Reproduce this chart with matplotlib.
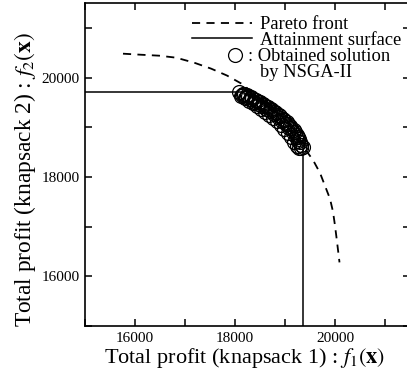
import matplotlib
matplotlib.use("Agg")
import matplotlib.pyplot as plt
from matplotlib.ticker import MultipleLocator

plt.rcParams["font.family"] = ["Liberation Serif", "DejaVu Serif"]
plt.rcParams["mathtext.fontset"] = "stix"

# Pareto front
front_f1 = [15760, 16100, 16480, 16820, 17180, 17520, 17840, 18160, 18600,
            19000, 19300, 19560, 19700, 19800, 19900, 19960, 20000, 20040, 20090]
front_f2 = [20480, 20460, 20440, 20400, 20300, 20180, 20040, 19860, 19460,
            19060, 18700, 18340, 18080, 17820, 17560, 17300, 17020, 16700, 16280]

# Solutions obtained by NSGA-II (overlapping strands of circles)
sol_a_f1 = [18080, 18180, 18260, 18340, 18420, 18500, 18580, 18660, 18740,
            18820, 18900, 18980, 19060, 19130, 19200, 19260, 19310, 19360]
sol_a_f2 = [19700, 19660, 19630, 19590, 19540, 19500, 19450, 19400, 19340,
            19280, 19220, 19150, 19070, 18990, 18900, 18810, 18710, 18600]
sol_b_f1 = [18120, 18200, 18280, 18360, 18440, 18520, 18600, 18680, 18760,
            18840, 18920, 18990, 19060, 19130, 19190, 19240, 19290, 19330]
sol_b_f2 = [19620, 19580, 19530, 19480, 19420, 19370, 19310, 19250, 19190,
            19120, 19040, 18960, 18880, 18800, 18710, 18630, 18580, 18580]
sol_c_f1 = [18140, 18220, 18300, 18380, 18460, 18540, 18620, 18700, 18780,
            18860, 18940, 19020, 19090, 19160, 19220, 19270, 19320]
sol_c_f2 = [19650, 19610, 19560, 19510, 19470, 19420, 19370, 19320, 19260,
            19200, 19130, 19060, 18980, 18900, 18810, 18730, 18640]
sol_d_f1 = [18160, 18240, 18320, 18400, 18480, 18560, 18640, 18720, 18800,
            18880, 18960, 19040, 19110, 19180, 19240, 19290]
sol_d_f2 = [19670, 19640, 19600, 19550, 19510, 19460, 19410, 19360, 19300,
            19240, 19170, 19100, 19020, 18940, 18850, 18760]

lo, hi = 15000, 21500

fig = plt.figure(figsize=(4.07, 3.81), dpi=100)
ax = fig.add_axes([85 / 407, 1 - 326 / 381, 325 / 407, 323 / 381])

# attainment surface: staircase through the outer strand
att_x = [lo] + sol_a_f1 + [sol_a_f1[-1]]
att_y = [sol_a_f2[0]] + sol_a_f2 + [lo]
ax.step(att_x, att_y, where="post", color="black", lw=1.1)

ax.plot(front_f1, front_f2, color="black", lw=1.3, ls=(0, (4.5, 3.5)))

for sx, sy in [(sol_a_f1, sol_a_f2), (sol_b_f1, sol_b_f2),
               (sol_c_f1, sol_c_f2), (sol_d_f1, sol_d_f2)]:
    ax.plot(sx, sy, "o", ms=10, mfc="none", mec="black", mew=0.9)

ax.set_xlim(lo, hi)
ax.set_ylim(lo, hi)
for a in (ax.xaxis, ax.yaxis):
    a.set_major_locator(MultipleLocator(2000))
    a.set_minor_locator(MultipleLocator(1000))
ax.tick_params(which="both", direction="in", top=True, right=True,
               length=5, width=1.1, labelsize=11, pad=4)
for s in ax.spines.values():
    s.set_linewidth(1.2)

ax.set_xlabel(r"Total profit (knapsack 1) : $f_1(\mathbf{x})$", fontsize=16)
ax.set_ylabel(r"Total profit (knapsack 2) : $f_2(\mathbf{x})$", fontsize=16.8)
ax.xaxis.set_label_coords(0.492, -0.062)
ax.yaxis.set_label_coords(-0.145, 0.452)

# hand-made legend
tr = ax.transAxes
ax.plot([0.329, 0.514], [0.938, 0.938], transform=tr, color="black", lw=1.3,
        ls=(0, (4.5, 3.5)), clip_on=False)
ax.plot([0.329, 0.514], [0.892, 0.892], transform=tr, color="black", lw=1.1, clip_on=False)
ax.plot([0.4615], [0.839], "o", transform=tr, ms=10, mfc="none", mec="black", mew=0.9)
fs = 13.3
ax.text(0.538, 0.9195, "Pareto front", transform=tr, fontsize=fs, va="baseline")
ax.text(0.538, 0.870, "Attainment surface", transform=tr, fontsize=fs, va="baseline")
ax.text(0.5015, 0.820, ": Obtained solution", transform=tr, fontsize=fs, va="baseline")
ax.text(0.538, 0.771, "by NSGA-II", transform=tr, fontsize=fs, va="baseline")

fig.savefig("out.png", dpi=100)
